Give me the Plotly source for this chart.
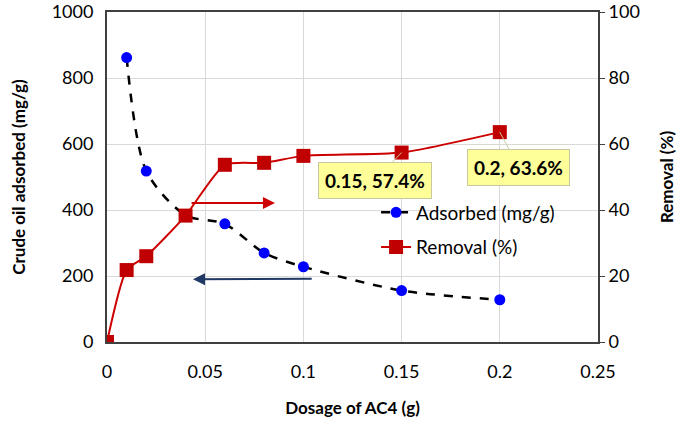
import plotly.graph_objects as go

dosage = [0.01, 0.02, 0.04, 0.06, 0.08, 0.1, 0.15, 0.2]
adsorbed = [862, 518, 384, 358, 270, 228, 156, 128]

dosage_removal = [0, 0.01, 0.02, 0.04, 0.06, 0.08, 0.1, 0.15, 0.2]
removal = [0, 21.8, 26.0, 38.3, 53.7, 54.3, 56.4, 57.4, 63.6]

x_ticks = [0, 0.05, 0.1, 0.15, 0.2, 0.25]
x_tick_labels = ["0", "0.05", "0.1", "0.15", "0.2", "0.25"]

FONT = "Lato"

fig = go.Figure()

fig.add_trace(go.Scatter(
    x=dosage, y=adsorbed, name="Adsorbed (mg/g)", mode="lines+markers", legendgroup="a",
    line=dict(color="black", width=2.5, dash="dash", shape="spline", smoothing=0.8),
    marker=dict(color="#0000ff", size=11, symbol="circle"),
))
fig.add_trace(go.Scatter(
    x=dosage_removal, y=removal, name="Removal (%)", mode="lines+markers", legendgroup="r",
    line=dict(color="#cc0000", width=2, shape="spline", smoothing=0.6),
    marker=dict(color="#c00000", size=14, symbol="square"),
    yaxis="y2",
))

# callouts
for xv, yv, txt, ax, ay in [(0.15, 57.4, "0.15, 57.4%", -27, 28), (0.2, 63.6, "0.2, 63.6%", 19, 35)]:
    fig.add_annotation(
        x=xv, y=yv, yref="y2", text="<b>" + txt + "</b>", showarrow=True,
        arrowhead=0, arrowwidth=1, arrowcolor="#c8c8a0", ax=ax, ay=ay, standoff=0,
        bgcolor="#ffff99", bordercolor="#c8c8a0", borderwidth=1, borderpad=6,
        font=dict(family=FONT, size=19, color="black"),
    )

# pointing arrows
fig.add_annotation(x=0.0855, y=421, ax=0.0423, ay=421, xref="x", yref="y", axref="x", ayref="y",
                   text="", showarrow=True, arrowhead=2, arrowsize=1.2, arrowwidth=2, arrowcolor="#cc0000")
fig.add_annotation(x=0.0438, y=190, ax=0.105, ay=192, xref="x", yref="y", axref="x", ayref="y",
                   text="", showarrow=True, arrowhead=2, arrowsize=1.2, arrowwidth=2, arrowcolor="#1f3864")

fig.update_layout(
    width=685, height=426,
    margin=dict(l=107, r=87, t=12, b=84),
    paper_bgcolor="white", plot_bgcolor="white",
    font=dict(family=FONT, size=18, color="black"),
    showlegend=True,
    legend=dict(x=0.548, y=0.45, xanchor="left", yanchor="top", bgcolor="rgba(0,0,0,0)",
                font=dict(family=FONT, size=19), itemwidth=30, tracegroupgap=7,
                traceorder="grouped"),
    xaxis=dict(
        range=[0, 0.25], tickvals=x_ticks, ticktext=x_tick_labels, automargin=False,
        showgrid=True, gridcolor="#d9d9d9", zeroline=False,
        showline=True, linecolor="#404040", linewidth=2, mirror=True,
        ticks="", ticklabelstandoff=12,
        title=dict(text="<b>Dosage of AC4 (g)</b>", font=dict(family=FONT, size=17), standoff=22),
    ),
    yaxis=dict(
        range=[0, 1000], dtick=200, showgrid=True, gridcolor="#d9d9d9", zeroline=False,
        showline=True, linecolor="#404040", linewidth=2, ticks="", automargin=False,
        ticklabelstandoff=8, ticklabeloverflow="allow",
        title=dict(text="<b>Crude oil adsorbed (mg/g)</b>", font=dict(family=FONT, size=17), standoff=22),
    ),
    yaxis2=dict(
        range=[0, 100], dtick=20, overlaying="y", side="right", showgrid=False, zeroline=False,
        showline=True, linecolor="#404040", linewidth=2, ticks="outside", ticklen=5,
        tickcolor="#404040", automargin=False, ticklabeloverflow="allow",
        title=dict(text="<b>Removal (%)</b>", font=dict(family=FONT, size=17), standoff=22),
    ),
)

# drop the browser's default body margin so the figure sits at the page corner
fig.write_html("out.html", config={"displayModeBar": False},
               post_script="document.body.style.margin='0px';")
